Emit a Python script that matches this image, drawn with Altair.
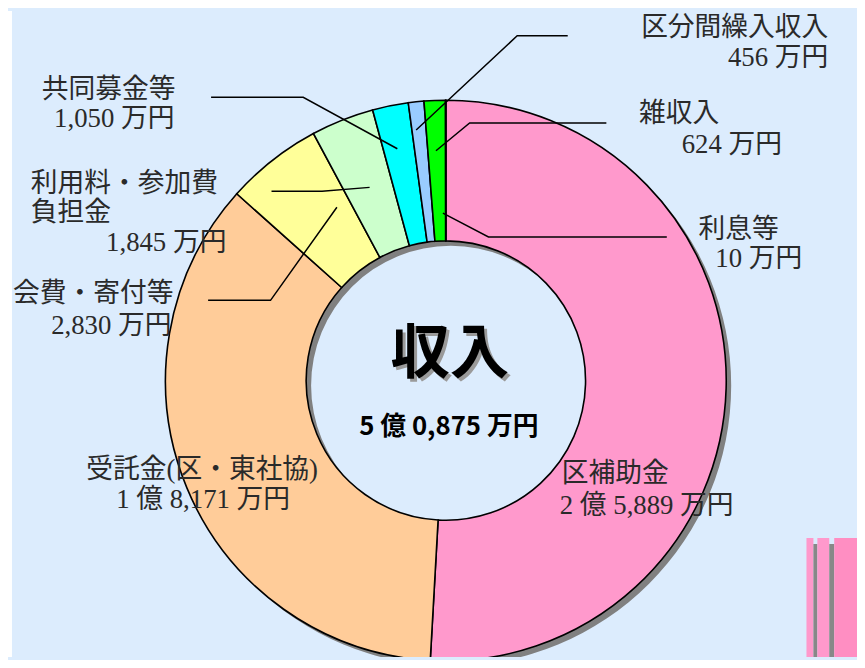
import altair as alt
import pandas as pd

# ---- data ----
categories = ["区補助金", "受託金(区・東社協)", "会費・寄付等", "利用料・参加費負担金",
              "共同募金等", "区分間繰入収入", "雑収入", "利息等"]
values = [25889, 18171, 2830, 1845, 1050, 456, 624, 10]
colors = ["#FF99CC", "#FFCC99", "#FFFF99", "#CCFFCC", "#00FFFF", "#99CCFF", "#00FF00", "#FF6600"]

center_title = "収入"
center_total = "5 億 0,875 万円"

label_lines = [
    "区分間繰入収入", "456 万円",
    "雑収入", "624 万円",
    "利息等", "10 万円",
    "共同募金等", "1,050 万円",
    "利用料・参加費", "負担金", "1,845 万円",
    "会費・寄付等", "2,830 万円",
    "受託金(区・東社協)", "1 億 8,171 万円",
    "区補助金", "2 億 5,889 万円",
]

# ---- layout (page pixel coordinates) ----
OFF = 8
W, H = 857, 652
CX, CY = 450, 381
R_OUT, R_IN = 283, 141
BG = "#DCECFD"

label_pos = [  # (x, y, align)
    (836, 25, "right"), (836, 55, "right"),
    (645, 112, "left"), (688, 143, "left"),
    (705, 229, "left"), (722, 258, "left"),
    (177, 88, "right"), (176, 117, "right"),
    (31, 183, "left"), (31, 212, "left"), (107, 242, "left"),
    (175, 294, "right"), (173, 326, "right"),
    (204, 471, "center"), (205, 502, "center"),
    (567, 475, "left"), (565, 508, "left"),
]

leaders = [
    [(573, 33), (522, 33), (420, 128)],
    [(612, 121), (474, 121), (440, 149)],
    [(673, 236), (493, 236), (447, 212)],
    [(213, 95), (306, 95), (401, 147)],
    [(274, 190), (325, 190), (373, 186)],
    [(210, 300), (273, 300), (340, 206)],
]

deco = [  # x1, x2, y1, y2, color
    (814, 821, 540, 680, "#FF99CC"),
    (821, 825, 546, 680, "#888888"),
    (825, 837, 540, 680, "#FF99CC"),
    (837, 842, 546, 680, "#888888"),
    (842, 870, 540, 680, "#FF8EC2"),
]

xs = alt.Scale(domain=[0, W], nice=False, zero=False)
ys = alt.Scale(domain=[0, H], nice=False, zero=False, reverse=True)

df = pd.DataFrame({"category": categories, "value": values, "idx": list(range(len(values)))})

cx, cy = CX - OFF, CY - OFF

shadow = alt.Chart(pd.DataFrame({"a": [0]})).mark_arc(
    innerRadius=R_IN, outerRadius=R_OUT, theta=0, theta2=6.2832, color="#808080"
).encode(x=alt.value(cx + 5), y=alt.value(cy + 5))

donut = alt.Chart(df).mark_arc(
    innerRadius=R_IN, outerRadius=R_OUT, stroke="black", strokeWidth=1.6
).encode(
    theta=alt.Theta("value:Q", stack=True),
    color=alt.Color("category:N", scale=alt.Scale(domain=categories, range=colors), legend=None),
    order=alt.Order("idx:Q"),
    x=alt.value(cx), y=alt.value(cy),
)

lines_rows = []
for i, pts in enumerate(leaders):
    for j, (px, py) in enumerate(pts):
        lines_rows.append({"lid": i, "seq": j, "px": px - OFF, "py": py - OFF})
leader_layer = alt.Chart(pd.DataFrame(lines_rows)).mark_line(color="black", strokeWidth=1.5).encode(
    x=alt.X("px:Q", scale=xs, axis=None),
    y=alt.Y("py:Q", scale=ys, axis=None),
    detail="lid:N", order="seq:Q",
)

lab_df = pd.DataFrame({
    "text": label_lines,
    "px": [p[0] - OFF for p in label_pos],
    "py": [p[1] - OFF for p in label_pos],
    "al": [p[2] for p in label_pos],
})
label_layers = []
for al in ["left", "right", "center"]:
    label_layers.append(
        alt.Chart(lab_df).transform_filter(alt.datum.al == al).mark_text(
            align=al, baseline="middle", fontSize=27,
            font="Liberation Serif, Noto Sans CJK JP", color="#2a2a2a"
        ).encode(x=alt.X("px:Q", scale=xs, axis=None), y=alt.Y("py:Q", scale=ys, axis=None), text="text:N")
    )

deco_df = pd.DataFrame({
    "x1": [d[0] - OFF for d in deco], "x2": [d[1] - OFF for d in deco],
    "y1": [d[2] - OFF for d in deco], "y2": [d[3] - OFF for d in deco],
    "c": [d[4] for d in deco],
})
deco_layer = alt.Chart(deco_df).mark_rect().encode(
    x=alt.X("x1:Q", scale=xs, axis=None), x2="x2:Q",
    y=alt.Y("y1:Q", scale=ys, axis=None), y2="y2:Q",
    color=alt.Color("c:N", scale=None),
)

strip = alt.Chart(pd.DataFrame({"a": [0]})).mark_rect(color="white").encode(
    x=alt.value(0), x2=alt.value(4), y=alt.value(0), y2=alt.value(H)
)

ct = pd.DataFrame({"t": [center_title]})
title_shadow = alt.Chart(ct).mark_text(
    fontSize=60, fontWeight="bold", font="Noto Sans CJK JP", color="#9a9a9a", baseline="middle"
).encode(x=alt.value(454 - OFF + 3), y=alt.value(355 - OFF + 3), text="t:N")
title_txt = alt.Chart(ct).mark_text(
    fontSize=60, fontWeight="bold", font="Noto Sans CJK JP", color="black", baseline="middle"
).encode(x=alt.value(454 - OFF), y=alt.value(355 - OFF), text="t:N")

tt = pd.DataFrame({"t": [center_total]})
total_txt = alt.Chart(tt).mark_text(
    fontSize=26, fontWeight="bold", font="Noto Sans CJK JP", color="black", baseline="middle"
).encode(x=alt.value(453 - OFF), y=alt.value(428 - OFF), text="t:N")

chart = alt.layer(
    strip, deco_layer, shadow, donut, leader_layer, *label_layers,
    title_shadow, title_txt, total_txt
).properties(
    width=W, height=H, padding=0, background=BG,
    autosize=alt.AutoSizeParams(type="none"),
).configure_view(stroke=None, clip=True)

chart.save("out.html", embed_options={"renderer": "svg", "actions": False})
